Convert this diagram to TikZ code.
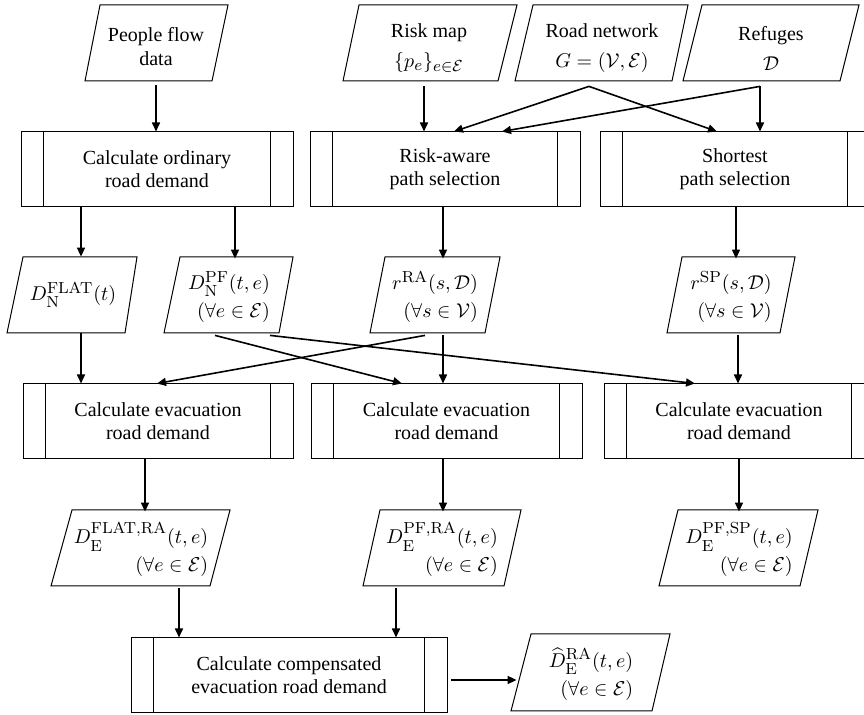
\documentclass[tikz,border=0pt]{standalone}
\usepackage[no-math]{fontspec}
\setmainfont{Liberation Serif}
\DeclareMathSizes{10}{10}{8}{6}
\usetikzlibrary{arrows.meta,calc}
\begin{document}
\begin{tikzpicture}[x=0.5pt,y=-0.5pt,
  shp/.style={draw, line width=0.5pt, line join=miter},
  dtext/.style={inner sep=0pt, minimum height=38pt, align=center, font=\fontsize{10}{12}\selectfont},
  mtext/.style={dtext, align=right},
  proc/.style={draw, line width=0.5pt, inner sep=0pt, minimum height=37.5pt, align=center,
    font=\fontsize{10}{11.5}\selectfont,
    path picture={\draw[line width=0.5pt]
      ([xshift=11.25pt]path picture bounding box.north west) -- ([xshift=11.25pt]path picture bounding box.south west)
      ([xshift=-11.25pt]path picture bounding box.north east) -- ([xshift=-11.25pt]path picture bounding box.south east);}},
  arr/.style={line width=0.8pt, -{Triangle[length=4.5pt,width=4pt]}}]
\useasboundingbox (0,0) rectangle (864,715);

% ---------- row 1: data ----------
\draw[shp] (100,5) -- (228,5) -- (212,81) -- (85,81) -- cycle;
\node[dtext] (pfd) at (156,47) {People flow\\data};
\draw[shp] (359,5) -- (517,5) -- (498,81) -- (343,81) -- cycle;
\node[dtext] (rmap) at (429,48) {Risk map\\[3pt]$\{p_e\}_{e\in\mathcal{E}}$};
\draw[shp] (533,5) -- (688,5) -- (672,81) -- (515,81) -- cycle;
\node[dtext] (rnet) at (602,48) {Road network\\[3pt]$G=(\mathcal{V},\mathcal{E})$};
\draw[shp] (702,5) -- (859,5) -- (840,81) -- (683,81) -- cycle;
\node[dtext] (ref) at (771,48) {Refuges\\[3pt]$\mathcal{D}$};

% ---------- row 1: processes ----------
\node[proc, minimum width=136pt] (ord) at (157,169.5) {Calculate ordinary\\road demand};
\node[proc, minimum width=135pt] (ra) at (445,169.5) {Risk-aware\\path selection};
\node[proc, minimum width=135pt] (sp) at (735,169.5) {Shortest\\path selection};

% ---------- row 2: data ----------
\draw[shp] (23,257) -- (137,257) -- (125,333) -- (7,333) -- cycle;
\node[mtext] (dnf) at (73,295) {$D^{\mathrm{FLAT}}_{\mathrm{N}}(t)$};
\draw[shp] (180,257) -- (293,257) -- (279,333) -- (164,333) -- cycle;
\node[mtext] (dnpf) at (229,297) {$D^{\mathrm{PF}}_{\mathrm{N}}(t,e)$\\[2pt]$(\forall e\in\mathcal{E})$};
\draw[shp] (385,257) -- (500,257) -- (485,333) -- (370,333) -- cycle;
\node[mtext] (rra) at (435,297) {$r^{\mathrm{RA}}(s,\mathcal{D})$\\[2pt]$(\forall s\in\mathcal{V})$};
\draw[shp] (682,257) -- (795,257) -- (780,333) -- (667,333) -- cycle;
\node[mtext] (rsp) at (731,297) {$r^{\mathrm{SP}}(s,\mathcal{D})$\\[2pt]$(\forall s\in\mathcal{V})$};

% ---------- row 3: processes ----------
\node[proc, minimum width=135pt] (ev1) at (158,421.5) {Calculate evacuation\\road demand};
\node[proc, minimum width=135.5pt] (ev2) at (446.5,421.5) {Calculate evacuation\\road demand};
\node[proc, minimum width=135pt] (ev3) at (739,421.5) {Calculate evacuation\\road demand};

% ---------- row 4: data ----------
\draw[shp] (72,510) -- (230,510) -- (210,586) -- (51,586) -- cycle;
\node[mtext] (defr) at (141,550) {$D^{\mathrm{FLAT,RA}}_{\mathrm{E}}(t,e)$\\[2pt]$(\forall e\in\mathcal{E})$};
\draw[shp] (380,510) -- (521,510) -- (504,586) -- (363,586) -- cycle;
\node[mtext] (depr) at (442,550) {$D^{\mathrm{PF,RA}}_{\mathrm{E}}(t,e)$\\[2pt]$(\forall e\in\mathcal{E})$};
\draw[shp] (678,510) -- (818,510) -- (800,586) -- (659,586) -- cycle;
\node[mtext] (deps) at (739,550) {$D^{\mathrm{PF,SP}}_{\mathrm{E}}(t,e)$\\[2pt]$(\forall e\in\mathcal{E})$};

% ---------- row 5 ----------
\node[proc, minimum width=158pt] (comp) at (289,675.5) {Calculate compensated\\evacuation road demand};
\draw[shp] (531,634) -- (670,634) -- (652,711) -- (511,711) -- cycle;
\node[mtext, minimum width=74pt] (dhat) at (591,674) {$\widehat{D}^{\mathrm{RA}}_{\mathrm{E}}(t,e)$\\[2pt]$(\forall e\in\mathcal{E})$};

% ---------- connectors ----------
\draw[arr] (pfd.south -| 156,0) -- (ord.north -| 156,0);
\draw[arr] (rmap.south -| 424,0) -- (ra.north -| 424,0);
\draw[arr] (rnet.south -| 589,0) -- (ra.north -| 454,0);
\draw[arr] (rnet.south -| 589,0) -- (sp.north -| 717,0);
\draw[arr] (ref.south -| 760,0) -- (ra.north -| 502,0);
\draw[arr] (ref.south -| 760,0) -- (sp.north -| 760,0);

\draw[arr] (ord.south -| 81,0) -- (dnf.north -| 81,0);
\draw[arr] (ord.south -| 235,0) -- (dnpf.north -| 235,0);
\draw[arr] (ra.south -| 443,0) -- (rra.north -| 443,0);
\draw[arr] (sp.south -| 736,0) -- (rsp.north -| 736,0);

\draw[arr] (dnf.south -| 81,0) -- (ev1.north -| 81,0);
\draw[arr] (rra.south -| 425,0) -- (ev1.north -| 157,0);
\draw[arr] (dnpf.south -| 215,0) -- (ev2.north -| 402,0);
\draw[arr] (dnpf.south -| 270,0) -- (ev3.north -| 695,0);
\draw[arr] (rra.south -| 443,0) -- (ev2.north -| 443,0);
\draw[arr] (rsp.south -| 738,0) -- (ev3.north -| 738,0);

\draw[arr] (ev1.south -| 145,0) -- (defr.north -| 145,0);
\draw[arr] (ev2.south -| 443,0) -- (depr.north -| 443,0);
\draw[arr] (ev3.south -| 739,0) -- (deps.north -| 739,0);

\draw[arr] (defr.south -| 179,0) -- (comp.north -| 179,0);
\draw[arr] (depr.south -| 396,0) -- (comp.north -| 396,0);
\draw[arr, shorten <=1.5pt] (comp.east |- 0,680) -- (dhat.west |- 0,680);
\end{tikzpicture}
\end{document}
